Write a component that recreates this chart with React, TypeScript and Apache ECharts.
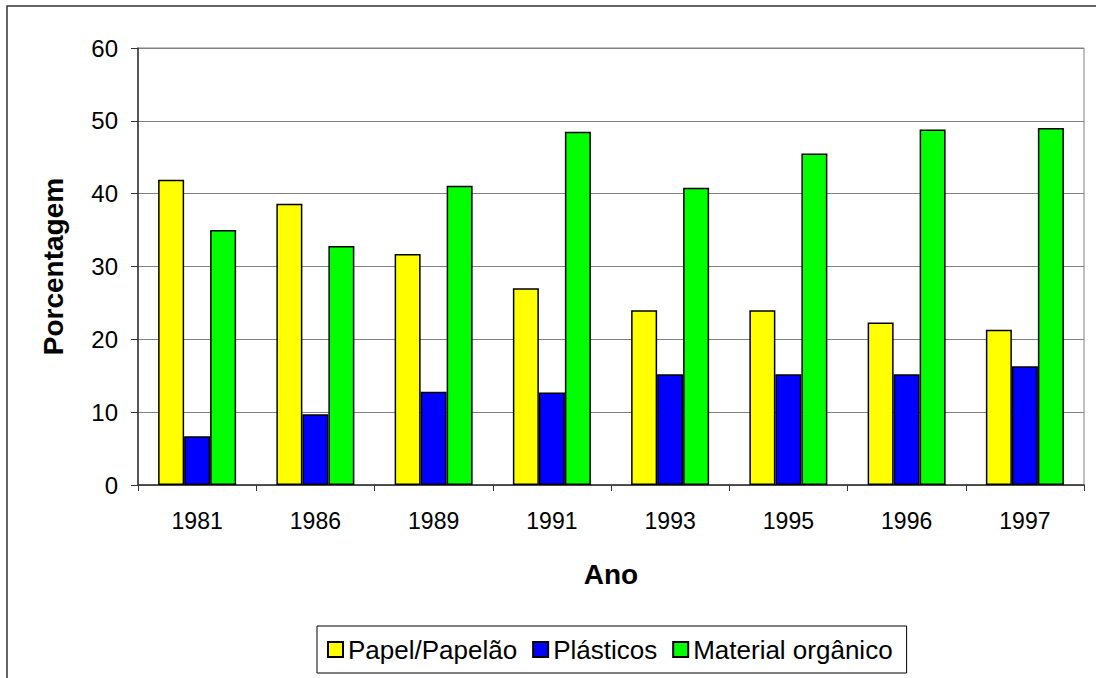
import React, { useEffect, useRef } from "react";
import * as echarts from "echarts";

const anos = ["1981", "1986", "1989", "1991", "1993", "1995", "1996", "1997"];
const papel = [41.9, 38.6, 31.7, 27.0, 24.0, 24.0, 22.3, 21.3];
const plasticos = [6.7, 9.7, 12.8, 12.7, 15.2, 15.2, 15.2, 16.3];
const organico = [35.0, 32.8, 41.1, 48.5, 40.8, 45.5, 48.8, 49.0];
const seriesNames = ["Papel/Papelão", "Plásticos", "Material orgânico"];
const seriesColors = ["#FFFF00", "#0000FF", "#00FF00"];

const FONT = "'Liberation Sans', Arial, sans-serif";

export default function App() {
  const ref = useRef<HTMLDivElement>(null);
  useEffect(() => {
    if (!ref.current) return;
    const chart = echarts.init(ref.current, null, { renderer: "svg" });
    const data = [papel, plasticos, organico];
    chart.setOption({
      animation: false,
      backgroundColor: "#ffffff",
      textStyle: { fontFamily: FONT },
      graphic: [
        {
          type: "rect",
          shape: { x: 7, y: 6, width: 1300, height: 900 },
          style: { fill: "none", stroke: "#333333", lineWidth: 1.5 },
          silent: true,
        },
      ],
      grid: {
        left: 138,
        top: 48,
        right: 12,
        bottom: 193,
        show: true,
        borderColor: "#808080",
        borderWidth: 1,
        backgroundColor: "transparent",
      },
      legend: {
        data: seriesNames,
        left: 317,
        top: 626,
        orient: "horizontal",
        itemWidth: 15,
        itemHeight: 15,
        itemGap: 15,
        padding: [10, 14, 10, 10],
        borderColor: "#000000",
        borderWidth: 1,
        textStyle: { fontSize: 26, color: "#000", fontFamily: FONT, lineHeight: 27 },
        icon: "rect",
      },
      xAxis: {
        type: "category",
        data: anos,
        name: "Ano",
        nameLocation: "middle",
        nameGap: 75,
        nameTextStyle: { fontSize: 28, fontWeight: "bold", color: "#000", fontFamily: FONT },
        axisLine: { lineStyle: { color: "#333333", width: 1.5 } },
        axisTick: { show: true, length: 6, alignWithLabel: false, lineStyle: { color: "#333333" } },
        axisLabel: { fontSize: 23, color: "#000", margin: 24, fontFamily: FONT },
        splitLine: { show: false },
      },
      yAxis: {
        type: "value",
        min: 0,
        max: 60,
        interval: 10,
        name: "Porcentagem",
        nameLocation: "middle",
        nameGap: 71,
        nameTextStyle: { fontSize: 28, fontWeight: "bold", color: "#000", fontFamily: FONT },
        axisLine: { show: true, lineStyle: { color: "#333333", width: 1.5 } },
        axisTick: { show: true, length: 7, lineStyle: { color: "#333333" } },
        axisLabel: { fontSize: 24, color: "#000", margin: 20, fontFamily: FONT },
        splitLine: { show: true, lineStyle: { color: "#808080", width: 1.2 } },
      },
      series: seriesNames.map((name, i) => ({
        name,
        type: "bar",
        data: data[i],
        barWidth: 26,
        barGap: "0%",
        itemStyle: { color: seriesColors[i], borderColor: "#000000", borderWidth: 1.5 },
        emphasis: { disabled: true },
      })),
    });
    return () => chart.dispose();
  }, []);
  return (
    <div
      ref={ref}
      style={{ position: "fixed", left: 0, top: 0, width: 1096, height: 678 }}
    />
  );
}
